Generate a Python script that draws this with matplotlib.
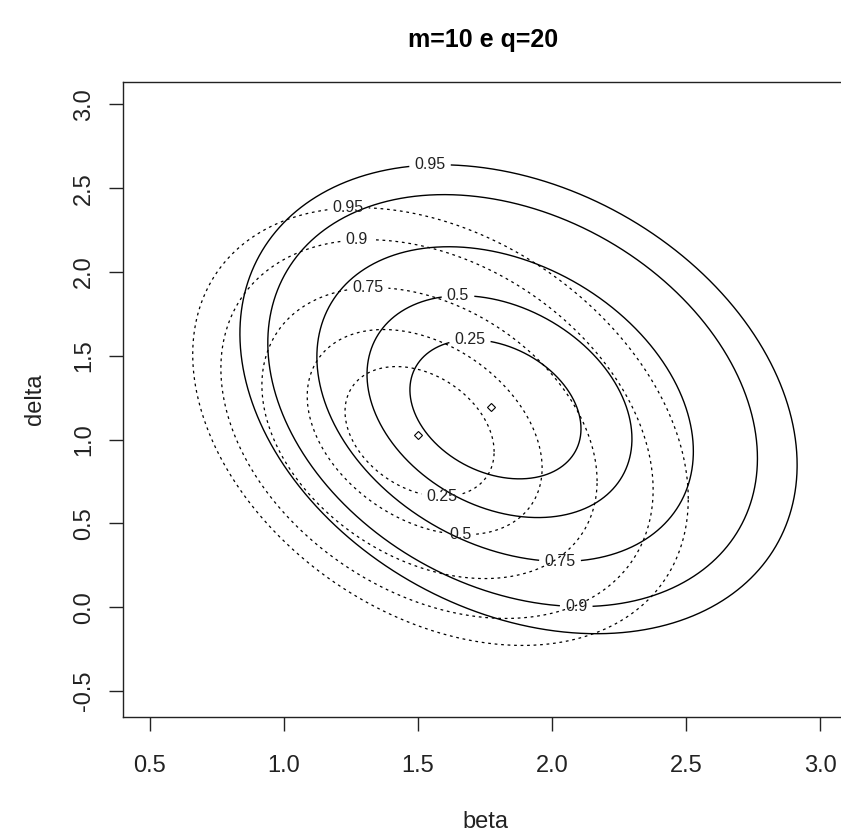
import numpy as np
import matplotlib
matplotlib.use("Agg")
import matplotlib.pyplot as plt

# ---------------- data ----------------
level_labels = ["0.25", "0.5", "0.75", "0.9", "0.95"]

# solid contour set: centre, half-width (beta), half-height (delta), correlation
solid_cx = [1.789, 1.804, 1.825, 1.853, 1.875]
solid_cy = [1.181, 1.197, 1.212, 1.233, 1.241]
solid_hw = [0.319, 0.494, 0.702, 0.913, 1.039]
solid_hh = [0.415, 0.662, 0.939, 1.229, 1.399]
solid_rho = [-0.28, -0.29, -0.30, -0.28, -0.28]
solid_label_x = [1.694, 1.649, 2.030, 2.090, 1.545]
solid_label_side = ["top", "top", "bottom", "bottom", "top"]

# dotted contour set
dotted_cx = [1.506, 1.525, 1.543, 1.571, 1.584]
dotted_cy = [1.048, 1.045, 1.039, 1.063, 1.078]
dotted_hw = [0.278, 0.438, 0.625, 0.806, 0.924]
dotted_hh = [0.388, 0.612, 0.868, 1.130, 1.306]
dotted_rho = [-0.31, -0.35, -0.33, -0.32, -0.33]
dotted_label_x = [1.590, 1.657, 1.313, 1.272, 1.239]
dotted_label_side = ["bottom", "bottom", "top", "top", "top"]

# estimated modes
mode_beta = [1.772, 1.500]
mode_delta = [1.197, 1.030]

x_ticks = [0.5, 1.0, 1.5, 2.0, 2.5, 3.0]
x_tick_labels = ["0.5", "1.0", "1.5", "2.0", "2.5", "3.0"]
y_ticks = [-0.5, 0.0, 0.5, 1.0, 1.5, 2.0, 2.5, 3.0]
y_tick_labels = ["-0.5", "0.0", "0.5", "1.0", "1.5", "2.0", "2.5", "3.0"]

title = "m=10 e q=20"
xlab = "beta"
ylab = "delta"

# ---------------- figure ----------------
W, H = 841, 836
fig = plt.figure(figsize=(W / 100, H / 100), dpi=100)
fig.patch.set_facecolor("white")

left_px, right_px, top_px, bot_px = 123.0, 847.0, 82.0, 717.0
ax = fig.add_axes([left_px / W, 1 - bot_px / H,
                   (right_px - left_px) / W, (bot_px - top_px) / H])
ax.set_xlim(0.4, 3.1)
ax.set_ylim(-0.655, 3.134)

FONT = "Liberation Sans"

ax.set_xticks(x_ticks)
ax.set_xticklabels(x_tick_labels, fontfamily=FONT, fontsize=17, color="#222222")
ax.set_yticks(y_ticks)
ax.set_yticklabels(y_tick_labels, fontfamily=FONT, fontsize=17, color="#222222",
                   rotation=90, va="center")
ax.tick_params(axis="both", direction="out", length=10.0, width=1.0, color="#222222")
ax.tick_params(axis="x", pad=17)
ax.tick_params(axis="y", pad=10)
for s in ax.spines.values():
    s.set_linewidth(1.0)
    s.set_color("#222222")

fig.text(483 / W, 1 - 40 / H, title, ha="center", va="center",
         fontfamily=FONT, fontweight="bold", fontsize=18, color="black")
fig.text((left_px + right_px) / 2 / W, 1 - 822 / H, xlab, ha="center", va="center",
         fontfamily=FONT, fontsize=17, color="#222222")
fig.text(35 / W, 1 - (top_px + bot_px) / 2 / H, ylab, ha="center", va="center",
         rotation=90, fontfamily=FONT, fontsize=17, color="#222222")

t = np.linspace(0, 2 * np.pi, 3000)


def ellipse(cx, cy, hw, hh, rho):
    x = cx + hw * np.cos(t)
    y = cy + hh * (rho * np.cos(t) + np.sqrt(1 - rho ** 2) * np.sin(t))
    return x, y


def label_point(cx, cy, hw, hh, rho, lx, side):
    c = np.clip((lx - cx) / hw, -1, 1)
    s = np.sqrt(1 - c ** 2) * (1 if side == "top" else -1)
    return lx, cy + hh * (rho * c + np.sqrt(1 - rho ** 2) * s)


fig.canvas.draw()
renderer = fig.canvas.get_renderer()


def draw_set(cxs, cys, hws, hhs, rhos, lxs, sides, style):
    for i in range(len(cxs)):
        x, y = ellipse(cxs[i], cys[i], hws[i], hhs[i], rhos[i])
        px, py = label_point(cxs[i], cys[i], hws[i], hhs[i], rhos[i], lxs[i], sides[i])
        txt = ax.text(px, py, level_labels[i], ha="center", va="center",
                      fontfamily=FONT, fontsize=11.5, color="#222222", zorder=5)
        bb = txt.get_window_extent(renderer=renderer)
        pts = ax.transData.transform(np.column_stack([x, y]))
        m = 5
        inside = ((pts[:, 0] > bb.x0 - m) & (pts[:, 0] < bb.x1 + m) &
                  (pts[:, 1] > bb.y0 - m) & (pts[:, 1] < bb.y1 + m))
        x = x.copy(); y = y.copy()
        x[inside] = np.nan
        y[inside] = np.nan
        if style == "solid":
            ax.plot(x, y, color="black", lw=1.0, solid_capstyle="butt")
        else:
            ax.plot(x, y, color="black", lw=0.9, linestyle=(0, (2.2, 3.0)))


draw_set(solid_cx, solid_cy, solid_hw, solid_hh, solid_rho,
         solid_label_x, solid_label_side, "solid")
draw_set(dotted_cx, dotted_cy, dotted_hw, dotted_hh, dotted_rho,
         dotted_label_x, dotted_label_side, "dotted")

ax.plot(mode_beta, mode_delta, linestyle="none", marker="D", markersize=4.2,
        markerfacecolor="none", markeredgecolor="black", markeredgewidth=0.8)

fig.savefig("out.png", dpi=100, facecolor="white")
